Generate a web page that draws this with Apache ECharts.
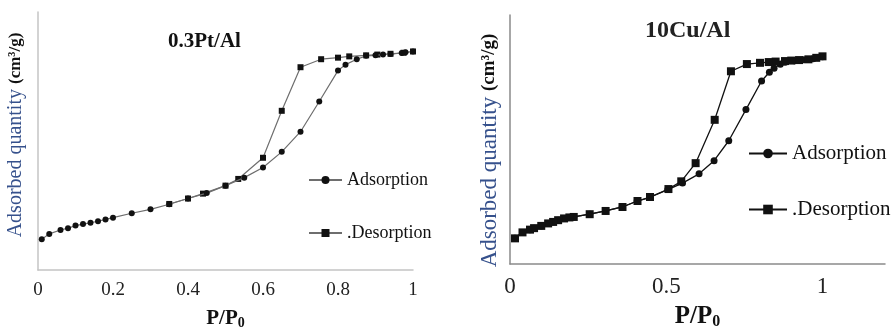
<!DOCTYPE html>
<html><head><meta charset="utf-8">
<script src="https://cdn.jsdelivr.net/npm/echarts@6/dist/echarts.min.js"></script>
<style>html,body{margin:0;padding:0;background:#fff}#c{width:894px;height:335px}</style>
</head><body><div id="c"></div>
<script>
// ---- data (P/P0 , adsorbed quantity in relative units) ----
const titles = ['0.3Pt/Al', '10Cu/Al'];
const legendNames = ['Adsorption', '.Desorption'];
const xTicksLeft = ['0', '0.2', '0.4', '0.6', '0.8', '1'];
const xTicksRight = ['0', '0.5', '1'];

const adsLeftP = [0.01,0.03,0.06,0.08,0.10,0.12,0.14,0.16,0.18,0.20,0.25,0.30,0.35,0.40,0.45,0.50,0.55,0.60,0.65,0.70,0.75,0.80,0.82,0.85,0.875,0.90,0.92,0.94,0.97,0.98,1.0];
const adsLeftV = [11.9,14.0,15.5,16.2,17.2,17.8,18.3,18.9,19.6,20.3,22.0,23.5,25.5,27.7,29.8,32.7,35.8,39.7,45.8,53.6,65.3,77.3,79.6,81.7,83.0,83.2,83.5,83.7,84.1,84.4,84.7];
const desLeftP = [1.0,0.975,0.94,0.905,0.875,0.83,0.80,0.755,0.70,0.65,0.60,0.534,0.50,0.44,0.40,0.35];
const desLeftV = [84.7,84.2,83.8,83.5,83.2,82.8,82.3,81.7,78.6,61.7,43.5,35.3,32.7,29.6,27.7,25.6];

const adsRightP = [0.016,0.04,0.064,0.077,0.10,0.122,0.138,0.154,0.173,0.19,0.204,0.255,0.306,0.359,0.407,0.447,0.505,0.552,0.605,0.653,0.70,0.755,0.805,0.83,0.845,0.865,0.88,0.91,0.94,0.97,1.0];
const adsRightV = [10.3,12.7,13.8,14.4,15.3,16.3,16.9,17.6,18.3,18.7,18.9,20.0,21.3,22.9,25.3,26.7,29.9,32.5,36.2,41.5,49.5,62.0,73.5,77.0,78.6,80.2,81.0,81.6,82.0,82.4,83.2];
const desRightP = [1.0,0.98,0.955,0.925,0.90,0.88,0.85,0.828,0.80,0.758,0.707,0.655,0.594,0.548,0.507,0.448,0.408,0.36,0.306,0.255,0.204,0.19,0.173,0.154,0.138,0.122,0.10,0.077,0.064,0.04,0.016];
const desRightV = [83.4,82.8,82.2,81.9,81.7,81.5,81.3,81.1,80.8,80.3,77.4,57.9,40.5,33.2,30.1,26.9,25.3,22.9,21.3,20.0,18.9,18.7,18.3,17.6,16.9,16.3,15.3,14.4,13.8,12.7,10.3];

const zip = (a, b) => a.map((v, i) => [v, b[i]]);
const SERIF = 'Liberation Serif, Times New Roman, serif';

const chart = echarts.init(document.getElementById('c'), null, {renderer: 'canvas'});

const yName = (fs, fsb, pad) => ({
  name: '{a|Adsorbed quantity }{b|(cm³/g)}',
  nameLocation: 'middle',
  nameTextStyle: {
    padding: pad,
    rich: {
      a: {fontFamily: SERIF, fontSize: fs, color: '#36518c'},
      b: {fontFamily: SERIF, fontSize: fsb, fontWeight: 'bold', color: '#111'}
    }
  }
});

const option = {
  backgroundColor: '#fff',
  animation: false,
  grid: [
    {left: 38, top: 12, width: 375, height: 266},
    {left: 510, top: 15, width: 375, height: 252}
  ],
  xAxis: [
    {
      gridIndex: 0, type: 'value', min: 0, max: 1, interval: 0.2,
      axisLine: {lineStyle: {color: '#c4c4c4', width: 1.5}},
      axisTick: {show: false}, splitLine: {show: false},
      axisLabel: {margin: 11, fontFamily: SERIF, fontSize: 19, color: '#222',
        formatter: v => xTicksLeft[Math.round(v / 0.2)] ?? ''},
      name: '{p|P/P}{s|0}', nameLocation: 'middle', nameGap: 37,
      nameTextStyle: {rich: {
        p: {fontFamily: SERIF, fontSize: 21, fontWeight: 'bold', color: '#111'},
        s: {fontFamily: SERIF, fontSize: 14, fontWeight: 'bold', color: '#111', verticalAlign: 'bottom', padding: [9, 0, 0, 0]}
      }}
    },
    {
      gridIndex: 1, type: 'value', min: 0, max: 1.2, interval: 0.5,
      axisLine: {lineStyle: {color: '#8a8a8a', width: 1.5}},
      axisTick: {show: false}, splitLine: {show: false},
      axisLabel: {margin: 11, fontFamily: SERIF, fontSize: 23, color: '#222', showMaxLabel: false,
        formatter: v => { const i = Math.round(v / 0.5); return Math.abs(v - i * 0.5) < 1e-6 ? (xTicksRight[i] ?? '') : ''; }},
      name: '{p|P/P}{s|0}', nameLocation: 'middle', nameGap: 40,
      nameTextStyle: {rich: {
        p: {fontFamily: SERIF, fontSize: 25, fontWeight: 'bold', color: '#111'},
        s: {fontFamily: SERIF, fontSize: 16, fontWeight: 'bold', color: '#111', verticalAlign: 'bottom', padding: [10, 0, 0, 0]}
      }}
    }
  ],
  yAxis: [
    Object.assign({
      gridIndex: 0, type: 'value', min: 0, max: 100,
      axisLine: {show: true, lineStyle: {color: '#c4c4c4', width: 1.5}},
      axisTick: {show: false}, axisLabel: {show: false}, splitLine: {show: false},
      nameGap: 12
    }, yName(20, 17, [0, 0, 0, 12])),
    Object.assign({
      gridIndex: 1, type: 'value', min: 0, max: 100,
      axisLine: {show: true, lineStyle: {color: '#8a8a8a', width: 1.5}},
      axisTick: {show: false}, axisLabel: {show: false}, splitLine: {show: false},
      nameGap: 9
    }, yName(23, 19, [0, 22, 0, 0]))
  ],
  legend: [
    {
      data: ['a1', 'd1'], orient: 'vertical', left: 303, top: 166,
      itemGap: 35, itemWidth: 33, itemHeight: 10,
      formatter: n => n === 'a1' ? legendNames[0] : legendNames[1],
      textStyle: {fontFamily: SERIF, fontSize: 18, color: '#111'}
    },
    {
      data: ['a2', 'd2'], orient: 'vertical', left: 743, top: 138,
      itemGap: 35, itemWidth: 38, itemHeight: 12,
      formatter: n => n === 'a2' ? legendNames[0] : legendNames[1],
      textStyle: {fontFamily: SERIF, fontSize: 21, color: '#111'}
    }
  ],
  graphic: [
    {type: 'text', left: 168, top: 31, style: {text: titles[0], font: 'bold 21px ' + SERIF, fill: '#111'}},
    {type: 'text', left: 645, top: 19, style: {text: titles[1], font: 'bold 24px ' + SERIF, fill: '#222'}}
  ],
  series: [
    {name: 'a1', type: 'line', xAxisIndex: 0, yAxisIndex: 0, data: zip(adsLeftP, adsLeftV),
      symbol: 'circle', symbolSize: 6, lineStyle: {color: '#6e6e6e', width: 1.2}, itemStyle: {color: '#111'}, z: 3},
    {name: 'd1', type: 'line', xAxisIndex: 0, yAxisIndex: 0, data: zip(desLeftP, desLeftV),
      symbol: 'rect', symbolSize: 6, lineStyle: {color: '#6e6e6e', width: 1.2}, itemStyle: {color: '#111'}, z: 2},
    {name: 'a2', type: 'line', xAxisIndex: 1, yAxisIndex: 1, data: zip(adsRightP, adsRightV),
      symbol: 'circle', symbolSize: 7, lineStyle: {color: '#111', width: 1.3}, itemStyle: {color: '#111'}},
    {name: 'd2', type: 'line', xAxisIndex: 1, yAxisIndex: 1, data: zip(desRightP, desRightV),
      symbol: 'rect', symbolSize: 8, lineStyle: {color: '#111', width: 1.3}, itemStyle: {color: '#111'}}
  ]
};
chart.setOption(option);
</script></body></html>
